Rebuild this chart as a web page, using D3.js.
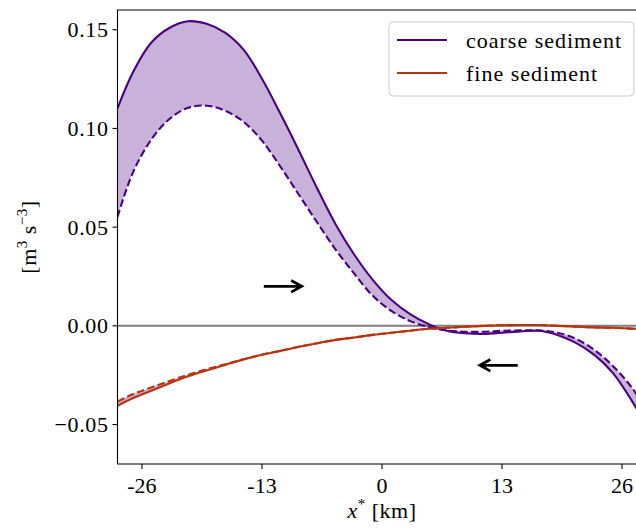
<!DOCTYPE html>
<html>
<head>
<meta charset="utf-8">
<script src="https://cdn.jsdelivr.net/npm/d3@7"></script>
<style>
  html, body { margin: 0; padding: 0; background: #fff; }
  svg { display: block; }
</style>
</head>
<body>
<div id="chart"></div>
<script>
// Along-channel position [km] where the curves were read.
const xKm = [-28.65, -27, -25, -23, -21, -19, -17, -15, -13, -11, -9, -7, -5, -3, -1,
  1, 3, 5, 7, 9, 11, 13, 15, 17, 19, 21, 23, 25, 27, 28.65];

// Coarse sediment: solid and dashed estimate.
const coarseSolid = [0.1102, 0.1282, 0.1434, 0.1510, 0.1543, 0.1530, 0.1485, 0.1399, 0.1252, 0.1074,
  0.0887, 0.0694, 0.0512, 0.0360, 0.0233, 0.0132, 0.0061, 0.0010, -0.0025, -0.0038,
  -0.0041, -0.0035, -0.0028, -0.0025, -0.0046, -0.0086, -0.0147, -0.0238, -0.0375, -0.0507];
const coarseDashed = [0.0552, 0.0775, 0.0943, 0.1049, 0.1105, 0.1115, 0.1090, 0.1034, 0.0938, 0.0806,
  0.0664, 0.0522, 0.0385, 0.0264, 0.0152, 0.0076, 0.0025, -0.0005, -0.0023, -0.0030,
  -0.0030, -0.0025, -0.0023, -0.0023, -0.0035, -0.0066, -0.0122, -0.0203, -0.0309, -0.0426];

// Fine sediment: solid and dashed estimate.
const fineSolid = [-0.0405, -0.0367, -0.0329, -0.0291, -0.0256, -0.0226, -0.0198, -0.0170, -0.0147, -0.0127,
  -0.0106, -0.0088, -0.0071, -0.0059, -0.0046, -0.0035, -0.0025, -0.0015, -0.0010, -0.0005,
  0.0000, 0.0003, 0.0004, 0.0004, 0.0000, -0.0004, -0.0008, -0.0010, -0.0014, -0.0017];
const fineDashed = [-0.0383, -0.0347, -0.0312, -0.0279, -0.0248, -0.0220, -0.0195, -0.0169, -0.0146, -0.0126,
  -0.0106, -0.0088, -0.0071, -0.0059, -0.0046, -0.0035, -0.0025, -0.0015, -0.0010, -0.0005,
  0.0000, 0.0003, 0.0004, 0.0004, 0.0000, -0.0004, -0.0008, -0.0010, -0.0014, -0.0017];

const xTicks = [-26, -13, 0, 13, 26];
const yTicks = [-0.05, 0, 0.05, 0.10, 0.15];
const seriesNames = ['coarse sediment', 'fine sediment'];
// Transport direction arrows (km, value).
const arrows = [
  {x0: -12.8, x1: -8.7, y: 0.02},
  {x0: 14.7, x1: 10.6, y: -0.02}
];

const purple = '#4b0082';
const red = '#b8330f';
const font = "'Liberation Serif', 'DejaVu Serif', 'Times New Roman', serif";

const W = 636, H = 529;
const m = {left: 117.5, right: 646.5, top: 10, bottom: 464};

const x = d3.scaleLinear().domain([-28.65, 28.65]).range([m.left, m.right]);
const y = d3.scaleLinear().domain([-0.07, 0.16]).range([m.bottom, m.top]);

const svg = d3.select('#chart').append('svg')
  .attr('width', W)
  .attr('height', H)
  .attr('font-family', font);

svg.append('clipPath').attr('id', 'clip')
  .append('rect')
  .attr('x', m.left).attr('y', m.top)
  .attr('width', m.right - m.left).attr('height', m.bottom - m.top);

const plot = svg.append('g').attr('clip-path', 'url(#clip)');

const pts = vals => xKm.map((d, i) => [d, vals[i]]);
const curve = d3.curveCatmullRom.alpha(0.5);

const area = d3.area()
  .x(d => x(d[0]))
  .y0(d => y(d[1]))
  .y1(d => y(d[2]))
  .curve(curve);

const line = d3.line()
  .x(d => x(d[0]))
  .y(d => y(d[1]))
  .curve(curve);

// zero line
plot.append('line')
  .attr('x1', m.left).attr('x2', m.right)
  .attr('y1', y(0)).attr('y2', y(0))
  .attr('stroke', '#7f7f7f')
  .attr('stroke-width', 2);

// shaded bands between solid and dashed
plot.append('path')
  .attr('d', area(xKm.map((d, i) => [d, coarseSolid[i], coarseDashed[i]])))
  .attr('fill', purple)
  .attr('fill-opacity', 0.3);
plot.append('path')
  .attr('d', area(xKm.map((d, i) => [d, fineSolid[i], fineDashed[i]])))
  .attr('fill', purple)
  .attr('fill-opacity', 0.3);

const series = [
  {vals: coarseDashed, color: purple, dash: '7.5,3.3'},
  {vals: fineDashed, color: red, dash: '7.5,3.3'},
  {vals: coarseSolid, color: purple, dash: null},
  {vals: fineSolid, color: red, dash: null}
];

plot.selectAll('path.series')
  .data(series)
  .join('path')
  .attr('class', 'series')
  .attr('d', d => line(pts(d.vals)))
  .attr('fill', 'none')
  .attr('stroke', d => d.color)
  .attr('stroke-width', 2.1)
  .attr('stroke-dasharray', d => d.dash);

// arrows
arrows.forEach(a => {
  const dir = Math.sign(a.x1 - a.x0);
  const tx = x(a.x1), ty = y(a.y);
  plot.append('path')
    .attr('d', `M${x(a.x0)},${ty}H${tx}M${tx - dir * 10.5},${ty - 5.8}L${tx},${ty}L${tx - dir * 10.5},${ty + 5.8}`)
    .attr('fill', 'none')
    .attr('stroke', '#000')
    .attr('stroke-width', 2.8)
    .attr('stroke-linejoin', 'miter');
});

// spines
svg.append('path')
  .attr('d', `M${m.left},${m.bottom}V${m.top}H${m.right}V${m.bottom}Z`)
  .attr('stroke', '#000')
  .attr('stroke-width', 1.1)
  .attr('fill', 'none');

// x axis
const xAxis = svg.append('g');
xAxis.selectAll('line')
  .data(xTicks)
  .join('line')
  .attr('x1', d => x(d)).attr('x2', d => x(d))
  .attr('y1', m.bottom).attr('y2', m.bottom + 5)
  .attr('stroke', '#000').attr('stroke-width', 1.1);
xAxis.selectAll('text')
  .data(xTicks)
  .join('text')
  .attr('x', d => x(d))
  .attr('y', m.bottom + 29)
  .attr('text-anchor', 'middle')
  .attr('font-size', 22)
  .text(d => String(d));

// y axis
const yAxis = svg.append('g');
yAxis.selectAll('line')
  .data(yTicks)
  .join('line')
  .attr('x1', m.left - 5).attr('x2', m.left)
  .attr('y1', d => y(d)).attr('y2', d => y(d))
  .attr('stroke', '#000').attr('stroke-width', 1.1);
yAxis.selectAll('text')
  .data(yTicks)
  .join('text')
  .attr('x', m.left - 9)
  .attr('y', d => y(d) + 7.5)
  .attr('text-anchor', 'end')
  .attr('font-size', 22)
  .attr('letter-spacing', 0.6)
  .text(d => d3.format('.2f')(d).replace('-', '\u2212'));

// axis labels
const xl = svg.append('text')
  .attr('x', (m.left + m.right) / 2)
  .attr('y', 518)
  .attr('text-anchor', 'middle')
  .attr('font-size', 22)
  .attr('letter-spacing', 0.5);
xl.append('tspan').attr('font-style', 'italic').text('x');
xl.append('tspan').attr('font-size', 15).attr('dy', -9).text('*');
xl.append('tspan').attr('dy', 9).text(' [km]');

const yl = svg.append('text')
  .attr('transform', `translate(36,${(m.top + m.bottom) / 2}) rotate(-90)`)
  .attr('text-anchor', 'middle')
  .attr('font-size', 22)
  .attr('letter-spacing', 0.5);
yl.append('tspan').text('[m');
yl.append('tspan').attr('font-size', 15).attr('dy', -9).text('3');
yl.append('tspan').attr('dy', 9).text(' s');
yl.append('tspan').attr('font-size', 15).attr('dy', -9).text('\u22123');
yl.append('tspan').attr('dy', 9).text(']');

// legend
const legend = svg.append('g');
legend.append('rect')
  .attr('x', 389).attr('y', 22)
  .attr('width', 245).attr('height', 74)
  .attr('rx', 4)
  .attr('fill', '#fff').attr('fill-opacity', 0.8)
  .attr('stroke', '#cccccc').attr('stroke-width', 1);
const item = legend.selectAll('g')
  .data(seriesNames)
  .join('g')
  .attr('transform', (d, i) => `translate(0,${40 + i * 33})`);
item.append('line')
  .attr('x1', 397).attr('x2', 447)
  .attr('stroke', (d, i) => i === 0 ? purple : red)
  .attr('stroke-width', 2.1);
item.append('text')
  .attr('x', 466)
  .attr('y', 8)
  .attr('font-size', 22)
  .attr('letter-spacing', 1)
  .text(d => d);
</script>
</body>
</html>
